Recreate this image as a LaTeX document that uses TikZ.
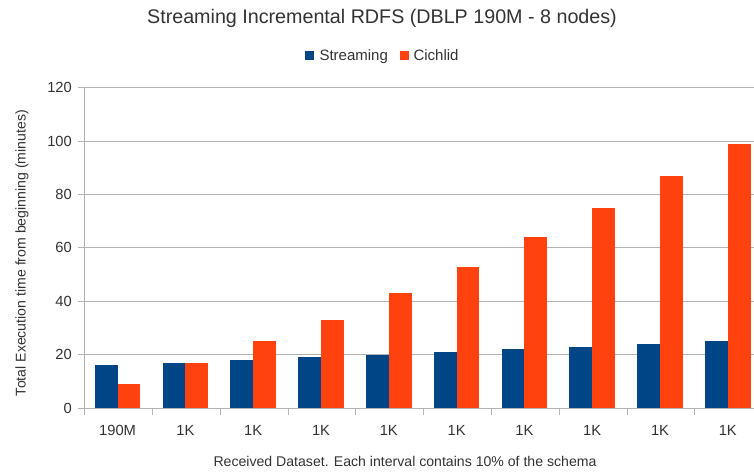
\documentclass[tikz,border=0pt]{standalone}
\usepackage{fontspec}
\setmainfont{Liberation Sans}
\usepackage{tikz}

\definecolor{streamblue}{HTML}{004586}
\definecolor{cichlidred}{HTML}{FF420E}
\definecolor{gridgray}{HTML}{B3B3B3}
\definecolor{labelgray}{HTML}{333333}

\begin{document}
\begin{tikzpicture}[x=1pt, y=-1pt,
    gridline/.style={draw=gridgray, line width=0.9pt},
    ticklabel/.style={text=labelgray, inner sep=0pt, font=\fontsize{14.7}{17}\selectfont},
    axistitle/.style={text=labelgray, inner sep=0pt, font=\fontsize{14.1}{17}\selectfont},
    legendlabel/.style={text=labelgray, inner sep=0pt, font=\fontsize{15}{18}\selectfont}]
    \useasboundingbox (0,0) rectangle (754,472);

    % grid lines and y labels
    \foreach \v in {0,20,...,120} {
        \pgfmathsetmacro{\py}{408-2.669*\v}
        \draw[gridline] (78,\py) -- (754,\py);
        \node[ticklabel, anchor = east] (ytick\v) at (72,\py) {\v};
    }
    \draw[gridline] (84.5, 87.7) -- (84.5, 408);
    \foreach \i in {0,...,9}
        \draw[gridline] ({84.7+67.8*\i}, 408) -- ++(0, 7);

    % bars
    \foreach \s/\c/\lab [count=\i from 0] in {16/9/190M, 17/17/1K, 18/25/1K, 19/33/1K, 20/43/1K,
                                              21/53/1K, 22/64/1K, 23/75/1K, 24/87/1K, 25/99/1K} {
        \pgfmathsetmacro{\cx}{83.7+67.8*(\i+0.5)}
        \fill[streamblue] (\cx-22.8, 408) rectangle (\cx, 408-2.669*\s);
        \fill[cichlidred] (\cx, 408) rectangle (\cx+22.8, 408-2.669*\c);
        \node[ticklabel, anchor = base] (xtick\i) at (\cx, 435) {\lab};
    }

    % titles
    \node[text=labelgray, inner sep=0pt, font=\fontsize{19.7}{23}\selectfont, anchor = base] (title) at (382, 23.3)
        {Streaming Incremental RDFS (DBLP 190M - 8 nodes)};
    \node[axistitle, anchor = base] (xtitle) at (405, 466)
        {Received Dataset. Each interval contains 10\% of the schema};
    \node[axistitle, anchor = base, rotate = 90] (ytitle) at (25.5, 253)
        {Total Execution time from beginning (minutes)};

    % legend
    \fill[streamblue] (305, 51) rectangle (314, 60);
    \node[legendlabel, anchor = base west] (legstream) at (319.3, 60) {Streaming};
    \fill[cichlidred] (400, 51) rectangle (409, 60);
    \node[legendlabel, anchor = base west] (legcichlid) at (413.3, 60) {Cichlid};
\end{tikzpicture}
\end{document}
